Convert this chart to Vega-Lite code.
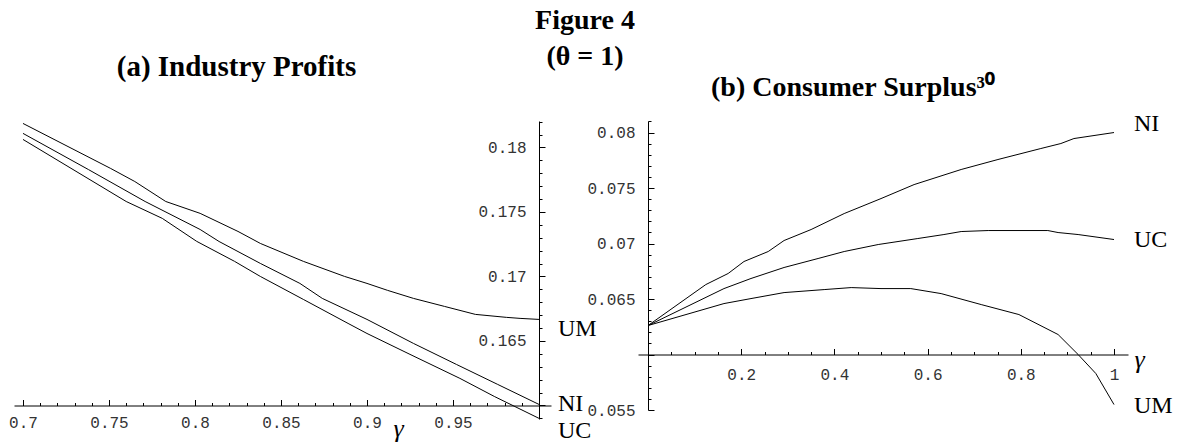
{
  "$schema": "https://vega.github.io/schema/vega-lite/v6.json",
  "background": "white",
  "padding": {"left": 8, "top": 6, "right": 2, "bottom": 0},
  "title": {
    "text": "Figure 4",
    "subtitle": "(θ = 1)",
    "font": "Liberation Serif", "fontSize": 28, "fontWeight": "bold", "color": "black",
    "subtitleFont": "Liberation Serif", "subtitleFontSize": 28, "subtitleFontWeight": "bold", "subtitleColor": "black",
    "subtitlePadding": 8,
    "anchor": "start", "align": "center", "frame": "group", "offset": -18, "dx": 571
  },
  "datasets": {
    "profits": [
      {"gamma": 0.7, "value": 0.18186, "series": "UM"},
      {"gamma": 0.751, "value": 0.17837, "series": "UM"},
      {"gamma": 0.765, "value": 0.17736, "series": "UM"},
      {"gamma": 0.783, "value": 0.17581, "series": "UM"},
      {"gamma": 0.803, "value": 0.17489, "series": "UM"},
      {"gamma": 0.825, "value": 0.17349, "series": "UM"},
      {"gamma": 0.838, "value": 0.17256, "series": "UM"},
      {"gamma": 0.863, "value": 0.17117, "series": "UM"},
      {"gamma": 0.887, "value": 0.17000, "series": "UM"},
      {"gamma": 0.9, "value": 0.16946, "series": "UM"},
      {"gamma": 0.912, "value": 0.16892, "series": "UM"},
      {"gamma": 0.927, "value": 0.16830, "series": "UM"},
      {"gamma": 0.945, "value": 0.16768, "series": "UM"},
      {"gamma": 0.963, "value": 0.16706, "series": "UM"},
      {"gamma": 0.981, "value": 0.16683, "series": "UM"},
      {"gamma": 0.989, "value": 0.16675, "series": "UM"},
      {"gamma": 1.0, "value": 0.16667, "series": "UM"},
      {"gamma": 0.7, "value": 0.18109, "series": "NI"},
      {"gamma": 0.738, "value": 0.17829, "series": "NI"},
      {"gamma": 0.771, "value": 0.17581, "series": "NI"},
      {"gamma": 0.803, "value": 0.17364, "series": "NI"},
      {"gamma": 0.814, "value": 0.17271, "series": "NI"},
      {"gamma": 0.838, "value": 0.17101, "series": "NI"},
      {"gamma": 0.861, "value": 0.16946, "series": "NI"},
      {"gamma": 0.874, "value": 0.16830, "series": "NI"},
      {"gamma": 0.9, "value": 0.16667, "series": "NI"},
      {"gamma": 0.927, "value": 0.16481, "series": "NI"},
      {"gamma": 0.952, "value": 0.16318, "series": "NI"},
      {"gamma": 0.976, "value": 0.16163, "series": "NI"},
      {"gamma": 1.0, "value": 0.16008, "series": "NI"},
      {"gamma": 0.7, "value": 0.18062, "series": "UC"},
      {"gamma": 0.76, "value": 0.17581, "series": "UC"},
      {"gamma": 0.781, "value": 0.17450, "series": "UC"},
      {"gamma": 0.801, "value": 0.17272, "series": "UC"},
      {"gamma": 0.823, "value": 0.17117, "series": "UC"},
      {"gamma": 0.838, "value": 0.17000, "series": "UC"},
      {"gamma": 0.863, "value": 0.16822, "series": "UC"},
      {"gamma": 0.889, "value": 0.16636, "series": "UC"},
      {"gamma": 0.9, "value": 0.16558, "series": "UC"},
      {"gamma": 0.925, "value": 0.16396, "series": "UC"},
      {"gamma": 0.954, "value": 0.16210, "series": "UC"},
      {"gamma": 0.974, "value": 0.16070, "series": "UC"},
      {"gamma": 1.0, "value": 0.15900, "series": "UC"}
    ],
    "surplus": [
      {"gamma": 0, "value": 0.06261, "series": "NI"},
      {"gamma": 0.124, "value": 0.06630, "series": "NI"},
      {"gamma": 0.172, "value": 0.06730, "series": "NI"},
      {"gamma": 0.206, "value": 0.06838, "series": "NI"},
      {"gamma": 0.258, "value": 0.06928, "series": "NI"},
      {"gamma": 0.292, "value": 0.07027, "series": "NI"},
      {"gamma": 0.35, "value": 0.07126, "series": "NI"},
      {"gamma": 0.421, "value": 0.07270, "series": "NI"},
      {"gamma": 0.5, "value": 0.07405, "series": "NI"},
      {"gamma": 0.571, "value": 0.07531, "series": "NI"},
      {"gamma": 0.672, "value": 0.07667, "series": "NI"},
      {"gamma": 0.751, "value": 0.07757, "series": "NI"},
      {"gamma": 0.843, "value": 0.07856, "series": "NI"},
      {"gamma": 0.886, "value": 0.07901, "series": "NI"},
      {"gamma": 0.914, "value": 0.07946, "series": "NI"},
      {"gamma": 1.0, "value": 0.08000, "series": "NI"},
      {"gamma": 0, "value": 0.06261, "series": "UC"},
      {"gamma": 0.163, "value": 0.06594, "series": "UC"},
      {"gamma": 0.221, "value": 0.06685, "series": "UC"},
      {"gamma": 0.292, "value": 0.06784, "series": "UC"},
      {"gamma": 0.365, "value": 0.06865, "series": "UC"},
      {"gamma": 0.421, "value": 0.06928, "series": "UC"},
      {"gamma": 0.494, "value": 0.06991, "series": "UC"},
      {"gamma": 0.579, "value": 0.07045, "series": "UC"},
      {"gamma": 0.635, "value": 0.07081, "series": "UC"},
      {"gamma": 0.672, "value": 0.07108, "series": "UC"},
      {"gamma": 0.73, "value": 0.07117, "series": "UC"},
      {"gamma": 0.858, "value": 0.07117, "series": "UC"},
      {"gamma": 0.88, "value": 0.07099, "series": "UC"},
      {"gamma": 0.923, "value": 0.07081, "series": "UC"},
      {"gamma": 1.0, "value": 0.07036, "series": "UC"},
      {"gamma": 0, "value": 0.06261, "series": "UM"},
      {"gamma": 0.163, "value": 0.06459, "series": "UM"},
      {"gamma": 0.221, "value": 0.06504, "series": "UM"},
      {"gamma": 0.292, "value": 0.06558, "series": "UM"},
      {"gamma": 0.378, "value": 0.06585, "series": "UM"},
      {"gamma": 0.436, "value": 0.06603, "series": "UM"},
      {"gamma": 0.5, "value": 0.06594, "series": "UM"},
      {"gamma": 0.564, "value": 0.06594, "series": "UM"},
      {"gamma": 0.629, "value": 0.06549, "series": "UM"},
      {"gamma": 0.715, "value": 0.06450, "series": "UM"},
      {"gamma": 0.796, "value": 0.06360, "series": "UM"},
      {"gamma": 0.88, "value": 0.06180, "series": "UM"},
      {"gamma": 0.923, "value": 0.06000, "series": "UM"},
      {"gamma": 0.961, "value": 0.05829, "series": "UM"},
      {"gamma": 1.0, "value": 0.05549, "series": "UM"}
    ]
  },
  "config": {
    "view": {"stroke": null},
    "axis": {
      "grid": false,
      "domainColor": "black", "domainWidth": 1,
      "tickColor": "black", "tickWidth": 1,
      "labelFont": "Liberation Mono", "labelFontSize": 16, "labelColor": "#333333",
      "labelOverlap": false, "labelFlush": false, "labelBound": false
    }
  },
  "bounds": "flush",
  "spacing": 87,
  "hconcat": [
    {
      "width": 537,
      "height": 298,
      "title": {"text": "(a) Industry Profits", "font": "Liberation Serif", "fontSize": 29, "fontWeight": "bold", "color": "black", "anchor": "middle", "frame": "group", "dx": -46, "offset": 32},
      "data": {"name": "profits"},
      "encoding": {
        "x": {
          "field": "gamma", "type": "quantitative",
          "scale": {"domain": [0.69477, 1.00698], "nice": false, "zero": false},
          "axis": {
            "orient": "bottom", "offset": -13.5,
            "values": [0.7,0.71,0.72,0.73,0.74,0.75,0.76,0.77,0.78,0.79,0.8,0.81,0.82,0.83,0.84,0.85,0.86,0.87,0.88,0.89,0.9,0.91,0.92,0.93,0.94,0.95,0.96,0.97,0.98,0.99,1.0],
            "tickSize": {"condition": {"test": "abs(datum.value*20 - round(datum.value*20)) < 0.001", "value": -6}, "value": -3},
            "labelExpr": "abs(datum.value*20 - round(datum.value*20)) < 0.001 && datum.value < 0.999 ? format(datum.value, '.2~f') : ''",
            "labelPadding": 15,
            "title": "γ", "titleFont": "Liberation Serif", "titleFontStyle": "italic", "titleFontWeight": "normal", "titleFontSize": 26, "titleColor": "black",
            "titleX": 384, "titleY": 31, "titleAlign": "center", "titleBaseline": "alphabetic"
          }
        },
        "y": {
          "field": "value", "type": "quantitative",
          "scale": {"domain": [0.15895, 0.18205], "nice": false, "zero": false},
          "axis": {
            "orient": "left", "offset": -525,
            "values": [0.159,0.16,0.161,0.162,0.163,0.164,0.165,0.166,0.167,0.168,0.169,0.17,0.171,0.172,0.173,0.174,0.175,0.176,0.177,0.178,0.179,0.18,0.181,0.182],
            "tickSize": {"condition": {"test": "abs(datum.value*200 - round(datum.value*200)) < 0.01", "value": -6}, "value": -3},
            "labelExpr": "abs(datum.value*200 - round(datum.value*200)) < 0.01 && abs(datum.value - 0.16) > 0.0001 ? format(datum.value, '.3~f') : ''",
            "labelPadding": 19,
            "title": null
          }
        }
      },
      "layer": [
        {"mark": {"type": "line", "color": "black", "strokeWidth": 1}, "encoding": {"detail": {"field": "series"}}},
        {"transform": [{"filter": "datum.gamma == 1 && datum.series == 'NI'"}], "mark": {"type": "text", "align": "left", "baseline": "middle", "dx": 19, "dy": 0, "font": "Liberation Serif", "fontSize": 24, "color": "black"}, "encoding": {"text": {"field": "series"}}},
        {"transform": [{"filter": "datum.gamma == 1 && datum.series == 'UC'"}], "mark": {"type": "text", "align": "left", "baseline": "middle", "dx": 19, "dy": 13, "font": "Liberation Serif", "fontSize": 24, "color": "black"}, "encoding": {"text": {"field": "series"}}},
        {"transform": [{"filter": "datum.gamma == 1 && datum.series == 'UM'"}], "mark": {"type": "text", "align": "left", "baseline": "middle", "dx": 19, "dy": 10, "font": "Liberation Serif", "fontSize": 24, "color": "black"}, "encoding": {"text": {"field": "series"}}}
      ]
    },
    {
      "width": 490,
      "height": 289,
      "title": {"text": "(b) Consumer Surplus³⁰", "font": "Liberation Serif", "fontSize": 28, "fontWeight": "bold", "color": "black", "anchor": "middle", "frame": "group", "dx": -30, "offset": 10},
      "data": {"name": "surplus"},
      "encoding": {
        "x": {
          "field": "gamma", "type": "quantitative",
          "scale": {"domain": [-0.02146, 1.03004], "nice": false, "zero": false},
          "axis": {
            "orient": "bottom", "offset": -55.5,
            "values": [0,0.05,0.1,0.15,0.2,0.25,0.3,0.35,0.4,0.45,0.5,0.55,0.6,0.65,0.7,0.75,0.8,0.85,0.9,0.95,1.0],
            "tickSize": {"condition": {"test": "abs(datum.value*5 - round(datum.value*5)) < 0.001", "value": -6}, "value": -3},
            "labelExpr": "abs(datum.value*5 - round(datum.value*5)) < 0.001 && datum.value > 0.01 ? format(datum.value, '.1~f') : ''",
            "labelPadding": 18,
            "title": "γ", "titleFont": "Liberation Serif", "titleFontStyle": "italic", "titleFontWeight": "normal", "titleFontSize": 26, "titleColor": "black",
            "titleX": 501, "titleY": 13, "titleAlign": "center", "titleBaseline": "alphabetic"
          }
        },
        "y": {
          "field": "value", "type": "quantitative",
          "scale": {"domain": [0.055, 0.08104], "nice": false, "zero": false},
          "axis": {
            "orient": "left", "offset": -10,
            "values": [0.055,0.056,0.057,0.058,0.059,0.06,0.061,0.062,0.063,0.064,0.065,0.066,0.067,0.068,0.069,0.07,0.071,0.072,0.073,0.074,0.075,0.076,0.077,0.078,0.079,0.08,0.081],
            "tickSize": {"condition": {"test": "abs(datum.value*200 - round(datum.value*200)) < 0.01", "value": -6}, "value": -3},
            "labelExpr": "abs(datum.value*200 - round(datum.value*200)) < 0.01 && abs(datum.value - 0.06) > 0.0001 ? format(datum.value, '.3~f') : ''",
            "labelPadding": 19,
            "title": null
          }
        }
      },
      "layer": [
        {"mark": {"type": "line", "color": "black", "strokeWidth": 1}, "encoding": {"detail": {"field": "series"}}},
        {"transform": [{"filter": "datum.gamma == 1 && datum.series == 'NI'"}], "mark": {"type": "text", "align": "left", "baseline": "middle", "dx": 20, "dy": -9, "font": "Liberation Serif", "fontSize": 24, "color": "black"}, "encoding": {"text": {"field": "series"}}},
        {"transform": [{"filter": "datum.gamma == 1 && datum.series == 'UC'"}], "mark": {"type": "text", "align": "left", "baseline": "middle", "dx": 20, "dy": 0, "font": "Liberation Serif", "fontSize": 24, "color": "black"}, "encoding": {"text": {"field": "series"}}},
        {"transform": [{"filter": "datum.gamma == 1 && datum.series == 'UM'"}], "mark": {"type": "text", "align": "left", "baseline": "middle", "dx": 20, "dy": 1, "font": "Liberation Serif", "fontSize": 24, "color": "black"}, "encoding": {"text": {"field": "series"}}}
      ]
    }
  ]
}
